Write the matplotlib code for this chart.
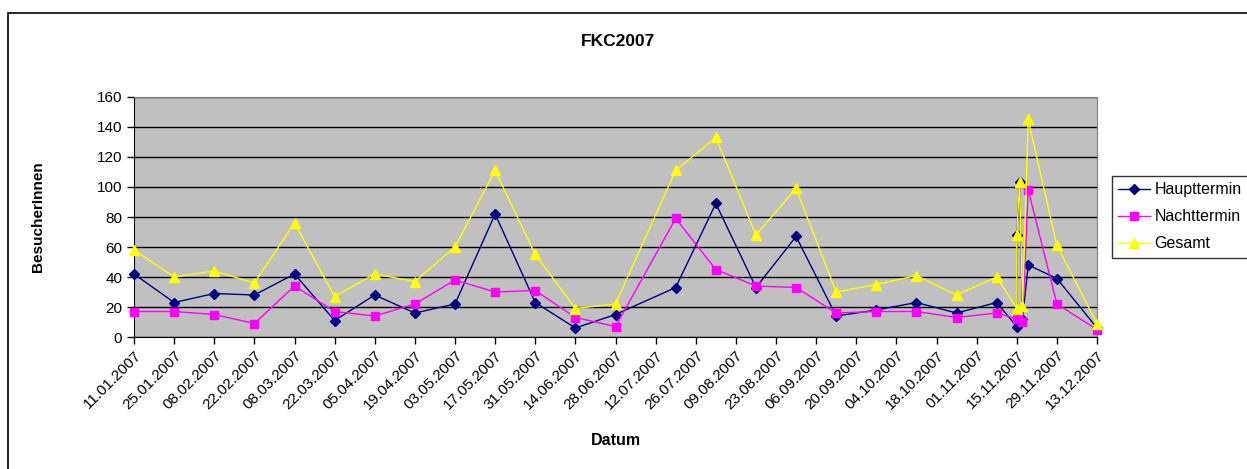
import matplotlib
matplotlib.use("Agg")
import matplotlib.pyplot as plt
import matplotlib.dates as mdates
from matplotlib.patches import Rectangle
import numpy as np
import pandas as pd

plt.rcParams['font.family'] = ['Liberation Sans', 'DejaVu Sans']

# data
datum = ['11.01.2007', '25.01.2007', '08.02.2007', '22.02.2007', '08.03.2007',
         '22.03.2007', '05.04.2007', '19.04.2007', '03.05.2007', '17.05.2007',
         '31.05.2007', '14.06.2007', '28.06.2007', '19.07.2007', '02.08.2007',
         '16.08.2007', '30.08.2007', '13.09.2007', '27.09.2007', '11.10.2007',
         '25.10.2007', '08.11.2007', '15.11.2007', '15.11.2007', '16.11.2007',
         '17.11.2007', '19.11.2007', '29.11.2007', '13.12.2007']
haupttermin = [42, 23, 29, 28, 42, 11, 28, 16, 22, 82, 23, 6, 15, 33, 89,
               33, 67, 14, 18, 23, 16, 23, 7, 68, 103, 12, 48, 39, 6]
nachttermin = [17, 17, 15, 9, 34, 17, 14, 22, 38, 30, 31, 13, 7, 79, 45,
               34, 33, 16, 17, 17, 13, 16, 12, None, None, 10, 98, 22, 5]
gesamt = [58, 40, 44, 36, 76, 27, 42, 37, 60, 111, 55, 19, 22, 111, 133,
          68, 99, 30, 35, 41, 28, 40, 19, 68, 103, 21, 145, 61, 9]

x = pd.to_datetime(datum, format='%d.%m.%Y')
n = pd.Series(nachttermin, dtype=float)
ok = n.notna().values

fig = plt.figure(figsize=(12.47, 4.69), dpi=100)
fig.patches.append(Rectangle((8 / 1247, -0.05), 1.2, 1 - 13 / 469 + 0.05,
                             transform=fig.transFigure, fill=False,
                             edgecolor='black', linewidth=1.2))

ax = fig.add_axes([134 / 1247, 132 / 469, 963 / 1247, 240 / 469])
ax.set_facecolor('#C0C0C0')

ax.plot(x, haupttermin, color='#000080', marker='D', markersize=5,
        linewidth=1, label='Haupttermin', zorder=3, clip_on=False)
ax.plot(x[ok], n[ok], color='#FF00FF', marker='s', markersize=6,
        linewidth=1, label='Nachttermin', zorder=4, clip_on=False)
ax.plot(x, gesamt, color='#FFFF00', marker='^', markersize=7,
        linewidth=1, label='Gesamt', zorder=5, clip_on=False)

ax.set_ylim(0, 160)
ax.set_yticks(np.arange(0, 161, 20))
ax.yaxis.grid(True, color='black', linewidth=1)
ax.set_axisbelow(True)

start = pd.Timestamp('2007-01-11')
end = pd.Timestamp('2007-12-13')
ax.set_xlim(start, end)
ticks = pd.date_range(start, end, freq='14D')
ax.set_xticks(ticks)
ax.xaxis.set_major_formatter(mdates.DateFormatter('%d.%m.%Y'))
for lab in ax.get_xticklabels():
    lab.set_rotation(45)
    lab.set_ha('right')
    lab.set_rotation_mode('anchor')

ax.tick_params(axis='both', labelsize=11, length=5, color='black', width=1)
ax.tick_params(axis='x', pad=3)
for side in ['top', 'right']:
    ax.spines[side].set_color('#808080')
for side in ['left', 'bottom']:
    ax.spines[side].set_color('black')

ax.set_ylabel('BesucherInnen', fontsize=11, fontweight='bold', labelpad=37)
ax.set_xlabel('Datum', fontsize=11.5, fontweight='bold', labelpad=15)
fig.text(618 / 1247, 1 - 42 / 469, 'FKC2007', fontsize=12.5,
         fontweight='bold', ha='center', va='center')

leg = fig.legend(loc='upper left', bbox_to_anchor=(1112 / 1247, 1 - 176 / 469),
                 borderaxespad=0, fontsize=11.5, frameon=True, fancybox=False,
                 handlelength=2.0, borderpad=0.4, labelspacing=0.75,
                 handletextpad=0.25)
leg.get_frame().set_edgecolor('black')
leg.get_frame().set_linewidth(1)

fig.savefig('out.png', dpi=100)
